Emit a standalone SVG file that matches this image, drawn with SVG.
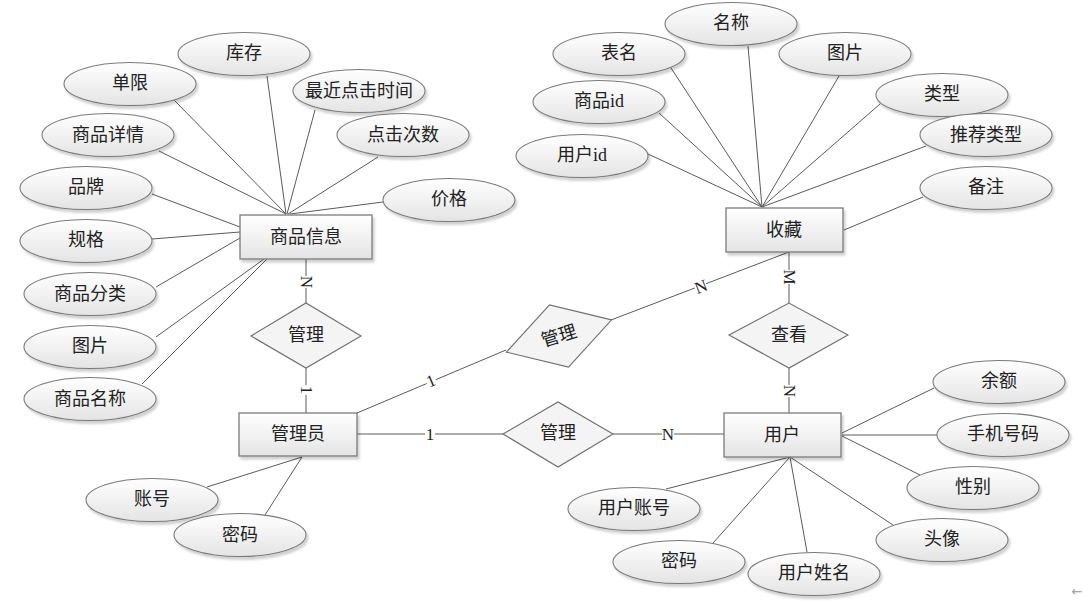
<svg xmlns="http://www.w3.org/2000/svg" xmlns:xlink="http://www.w3.org/1999/xlink" width="1083" height="614" viewBox="0 0 1083 614">
<defs>
<linearGradient id="g" x1="0" y1="0" x2="0" y2="1">
<stop offset="0" stop-color="#ffffff"/>
<stop offset="1" stop-color="#e4e4e4"/>
</linearGradient>
<filter id="sh" x="-10%" y="-10%" width="130%" height="140%">
<feDropShadow dx="2" dy="3" stdDeviation="1.2" flood-color="#000" flood-opacity="0.18"/>
</filter>
<style>
.ent{fill:url(#g);stroke:#7a7a7a;stroke-width:1.3;filter:url(#sh)}
.att{fill:url(#g);stroke:#7a7a7a;stroke-width:1.1;filter:url(#sh)}
.rel{fill:#f4f4f4;stroke:#6e6e6e;stroke-width:1.1}
.t{font-family:"Liberation Serif","Noto Sans CJK SC",serif;font-size:18px;fill:#222;text-anchor:middle;dominant-baseline:central}
.c line{stroke:#5a5a5a;stroke-width:1}
.lb{font-family:"Liberation Serif","Noto Sans CJK SC",serif;font-size:17px;fill:#222;text-anchor:middle;dominant-baseline:central}
.bg{fill:#fff}
</style>
</defs>
<rect width="1083" height="614" fill="#fff"/>

<g id="connectors" class="c">
<line x1="267" y1="76" x2="286" y2="214"/>
<line x1="174" y1="100" x2="286" y2="214"/>
<line x1="315" y1="110" x2="287" y2="214"/>
<line x1="159" y1="151" x2="286" y2="214"/>
<line x1="378" y1="157" x2="288" y2="214"/>
<line x1="383" y1="202" x2="290" y2="214"/>
<line x1="152" y1="194" x2="240" y2="227"/>
<line x1="152" y1="239" x2="240" y2="232"/>
<line x1="156" y1="287" x2="240" y2="238"/>
<line x1="156" y1="337" x2="264" y2="259"/>
<line x1="142" y1="384" x2="267" y2="259"/>
<line x1="671" y1="68" x2="762" y2="207"/>
<line x1="748" y1="46" x2="762" y2="207"/>
<line x1="839" y1="76" x2="762" y2="207"/>
<line x1="659" y1="113" x2="762" y2="207"/>
<line x1="880" y1="104" x2="762" y2="207"/>
<line x1="926" y1="146" x2="762" y2="207"/>
<line x1="648" y1="154" x2="762" y2="207"/>
<line x1="923" y1="197" x2="844" y2="230"/>
<line x1="934" y1="388" x2="842" y2="433"/>
<line x1="937" y1="435" x2="842" y2="435"/>
<line x1="920" y1="475" x2="842" y2="436"/>
<line x1="893" y1="525" x2="790" y2="457"/>
<line x1="666" y1="489" x2="790" y2="457"/>
<line x1="713" y1="543" x2="790" y2="457"/>
<line x1="807" y1="552" x2="790" y2="457"/>
<line x1="207" y1="487" x2="302" y2="457"/>
<line x1="265" y1="515" x2="302" y2="457"/>
<line x1="306" y1="259" x2="306" y2="303"/>
<line x1="306" y1="368" x2="306" y2="413"/>
<line x1="357" y1="413" x2="506" y2="350"/>
<line x1="611" y1="320" x2="789" y2="252"/>
<line x1="789" y1="252" x2="789" y2="303"/>
<line x1="789" y1="368" x2="789" y2="413"/>
<line x1="357" y1="434" x2="503" y2="434"/>
<line x1="613" y1="434" x2="724" y2="434"/>
<g id="cardinalities">
<g transform="translate(306,282) rotate(90)"><rect class="bg" x="-6" y="-8" width="12" height="16"/><text class="lb" x="0" y="0">N</text></g>
<g transform="translate(306,390) rotate(90)"><rect class="bg" x="-5" y="-8" width="10" height="16"/><text class="lb" x="0" y="0">1</text></g>
<g transform="translate(431,381) rotate(-23)"><rect class="bg" x="-5" y="-8" width="10" height="16"/><text class="lb" x="0" y="0">1</text></g>
<g transform="translate(701,287) rotate(-21)"><rect class="bg" x="-6" y="-8" width="12" height="16"/><text class="lb" x="0" y="0">N</text></g>
<g transform="translate(789,277) rotate(90)"><rect class="bg" x="-7" y="-8" width="14" height="16"/><text class="lb" x="0" y="0">M</text></g>
<g transform="translate(789,391) rotate(90)"><rect class="bg" x="-6" y="-8" width="12" height="16"/><text class="lb" x="0" y="0">N</text></g>
<g transform="translate(430,434)"><rect class="bg" x="-5" y="-8" width="10" height="16"/><text class="lb" x="0" y="0">1</text></g>
<g transform="translate(668,434)"><rect class="bg" x="-6" y="-8" width="12" height="16"/><text class="lb" x="0" y="0">N</text></g>
</g>
</g>

<g id="e-goods"><rect class="ent" x="240" y="215" width="132" height="44"/><text class="t" x="306" y="237">商品信息</text></g>
<g id="e-admin"><rect class="ent" x="239" y="413" width="118" height="43"/><text class="t" x="298" y="434">管理员</text></g>
<g id="e-fav"><rect class="ent" x="726" y="208" width="117" height="44"/><text class="t" x="784" y="230">收藏</text></g>
<g id="e-user"><rect class="ent" x="724" y="413" width="117" height="44"/><text class="t" x="782" y="435">用户</text></g>

<g id="r-manage1"><polygon class="rel" points="251,336 306,303 361,336 306,368"/><text class="t" x="306" y="335">管理</text></g>
<g id="r-manage2" transform="translate(559,336) rotate(-17)"><polygon class="rel" points="-55,0 0,-32.5 55,0 0,32.5"/><text class="t" x="0" y="0">管理</text></g>
<g id="r-view"><polygon class="rel" points="729,335 789,303 848,335 789,368"/><text class="t" x="789" y="335">查看</text></g>
<g id="r-manage3"><polygon class="rel" points="503,434 558,402 613,434 558,467"/><text class="t" x="558" y="433">管理</text></g>

<g id="a-kucun"><ellipse class="att" cx="244" cy="54" rx="66" ry="21.5"/><text class="t" x="244" y="53">库存</text></g>
<g id="a-danxian"><ellipse class="att" cx="130" cy="84" rx="66" ry="21.5"/><text class="t" x="130" y="83">单限</text></g>
<g id="a-zuijin"><ellipse class="att" cx="359" cy="91" rx="66" ry="21.5"/><text class="t" x="359" y="91">最近点击时间</text></g>
<g id="a-xiangqing"><ellipse class="att" cx="108" cy="135" rx="66" ry="21.5"/><text class="t" x="108" y="135">商品详情</text></g>
<g id="a-cishu"><ellipse class="att" cx="403" cy="135" rx="66" ry="21.5"/><text class="t" x="403" y="135">点击次数</text></g>
<g id="a-pinpai"><ellipse class="att" cx="86" cy="188" rx="66" ry="21.5"/><text class="t" x="86" y="187">品牌</text></g>
<g id="a-jiage"><ellipse class="att" cx="449" cy="200" rx="66" ry="21.5"/><text class="t" x="449" y="199">价格</text></g>
<g id="a-guige"><ellipse class="att" cx="86" cy="241" rx="66" ry="21.5"/><text class="t" x="86" y="240">规格</text></g>
<g id="a-fenlei"><ellipse class="att" cx="90" cy="294" rx="66" ry="21.5"/><text class="t" x="90" y="294">商品分类</text></g>
<g id="a-tupian1"><ellipse class="att" cx="90" cy="347" rx="66" ry="21.5"/><text class="t" x="90" y="346">图片</text></g>
<g id="a-mingcheng1"><ellipse class="att" cx="90" cy="399" rx="66" ry="21.5"/><text class="t" x="90" y="399">商品名称</text></g>

<g id="a-mingcheng2"><ellipse class="att" cx="731" cy="24" rx="66" ry="21.5"/><text class="t" x="731" y="23">名称</text></g>
<g id="a-biaoming"><ellipse class="att" cx="619" cy="54" rx="66" ry="21.5"/><text class="t" x="619" y="53">表名</text></g>
<g id="a-tupian2"><ellipse class="att" cx="845" cy="54" rx="66" ry="21.5"/><text class="t" x="845" y="53">图片</text></g>
<g id="a-goodsid"><ellipse class="att" cx="599" cy="102" rx="66" ry="21.5"/><text class="t" x="599" y="101">商品id</text></g>
<g id="a-leixing"><ellipse class="att" cx="942" cy="95" rx="66" ry="21.5"/><text class="t" x="942" y="94">类型</text></g>
<g id="a-tuijian"><ellipse class="att" cx="986" cy="135" rx="66" ry="21.5"/><text class="t" x="986" y="135">推荐类型</text></g>
<g id="a-userid"><ellipse class="att" cx="582" cy="156" rx="66" ry="21.5"/><text class="t" x="582" y="155">用户id</text></g>
<g id="a-beizhu"><ellipse class="att" cx="986" cy="188" rx="66" ry="21.5"/><text class="t" x="986" y="187">备注</text></g>

<g id="a-yue"><ellipse class="att" cx="999" cy="382" rx="66" ry="21.5"/><text class="t" x="999" y="381">余额</text></g>
<g id="a-shouji"><ellipse class="att" cx="1003" cy="435" rx="66" ry="21.5"/><text class="t" x="1003" y="434">手机号码</text></g>
<g id="a-xingbie"><ellipse class="att" cx="973" cy="488" rx="66" ry="21.5"/><text class="t" x="973" y="487">性别</text></g>
<g id="a-touxiang"><ellipse class="att" cx="942" cy="540" rx="66" ry="21.5"/><text class="t" x="942" y="539">头像</text></g>
<g id="a-zhanghao2"><ellipse class="att" cx="634" cy="509" rx="66" ry="21.5"/><text class="t" x="634" y="508">用户账号</text></g>
<g id="a-mima2"><ellipse class="att" cx="679" cy="562" rx="66" ry="21.5"/><text class="t" x="679" y="561">密码</text></g>
<g id="a-xingming"><ellipse class="att" cx="814" cy="574" rx="66" ry="21.5"/><text class="t" x="814" y="573">用户姓名</text></g>

<g id="a-zhanghao1"><ellipse class="att" cx="152" cy="500" rx="66" ry="21.5"/><text class="t" x="152" y="499">账号</text></g>
<g id="a-mima1"><ellipse class="att" cx="240" cy="535" rx="66" ry="21.5"/><text class="t" x="240" y="535">密码</text></g>

<text x="1077" y="591" font-family="DejaVu Sans, sans-serif" font-size="13" fill="#999" text-anchor="middle" dominant-baseline="central">←</text>
</svg>
